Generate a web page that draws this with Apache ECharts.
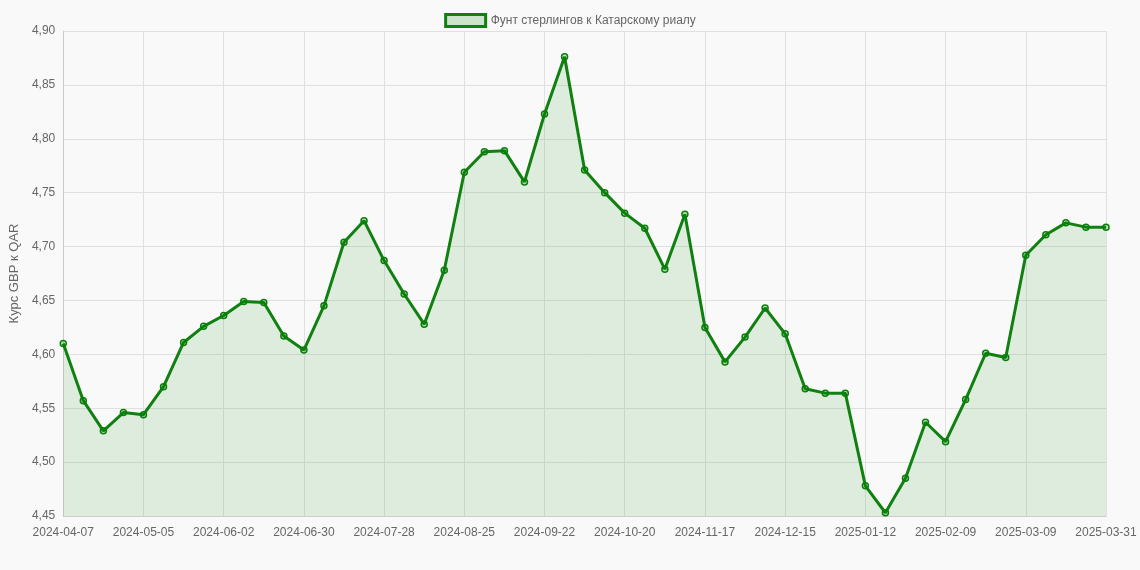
<!DOCTYPE html>
<html>
<head>
<meta charset="utf-8">
<script src="https://cdn.jsdelivr.net/npm/echarts@6/dist/echarts.min.js"></script>
<style>
html,body{margin:0;padding:0;background:#f9f9f9;}
#main{width:1140px;height:570px;}
</style>
</head>
<body>
<div id="main"></div>
<script>
var seriesName = 'Фунт стерлингов к Катарскому риалу';
var dates = [
    '2024-04-07','2024-04-14','2024-04-21','2024-04-28',
    '2024-05-05','2024-05-12','2024-05-19','2024-05-26',
    '2024-06-02','2024-06-09','2024-06-16','2024-06-23','2024-06-30',
    '2024-07-07','2024-07-14','2024-07-21','2024-07-28',
    '2024-08-04','2024-08-11','2024-08-18','2024-08-25',
    '2024-09-01','2024-09-08','2024-09-15','2024-09-22','2024-09-29',
    '2024-10-06','2024-10-13','2024-10-20','2024-10-27',
    '2024-11-03','2024-11-10','2024-11-17','2024-11-24',
    '2024-12-01','2024-12-08','2024-12-15','2024-12-22','2024-12-29',
    '2025-01-05','2025-01-12','2025-01-19','2025-01-26',
    '2025-02-02','2025-02-09','2025-02-16','2025-02-23',
    '2025-03-02','2025-03-09','2025-03-16','2025-03-23','2025-03-30','2025-03-31'
];
var rates = [
    4.610,4.557,4.529,4.546,4.544,4.570,4.611,4.626,4.636,4.649,
    4.648,4.617,4.604,4.645,4.704,4.724,4.687,4.656,4.628,4.678,
    4.769,4.788,4.789,4.760,4.823,4.876,4.771,4.750,4.731,4.717,
    4.679,4.730,4.625,4.593,4.616,4.643,4.619,4.568,4.564,4.564,
    4.478,4.453,4.485,4.537,4.519,4.558,4.601,4.597,4.692,4.711,
    4.722,4.718,4.718
];

var myChart = echarts.init(document.getElementById('main'));
var option = {
    backgroundColor: '#f9f9f9',
    textStyle: { fontFamily: 'Liberation Sans, Arial, sans-serif' },
    legend: {
        top: 8,
        icon: 'rect',
        itemWidth: 40,
        itemHeight: 12,
        itemStyle: { color: 'rgba(0,128,0,0.18)', borderColor: '#108010', borderWidth: 3 },
        textStyle: { color: '#666', fontSize: 12 },
        data: [seriesName]
    },
    grid: { left: 62, right: 34, top: 31, bottom: 54 },
    xAxis: {
        type: 'category',
        boundaryGap: false,
        data: dates,
        axisLine: { lineStyle: { color: '#ccc' } },
        axisTick: { show: false },
        axisLabel: { interval: 3, color: '#666', fontSize: 12, margin: 11 },
        splitLine: { show: true, interval: 3, lineStyle: { color: '#e0e0e0' } }
    },
    yAxis: {
        type: 'value',
        min: 4.45,
        max: 4.90,
        interval: 0.05,
        name: 'Курс GBP к QAR',
        nameLocation: 'middle',
        nameGap: 40,
        nameTextStyle: { color: '#666', fontSize: 13 },
        axisLine: { show: true, lineStyle: { color: '#ccc' } },
        axisTick: { show: false },
        axisLabel: {
            color: '#666', fontSize: 12,
            formatter: function (v) { return v.toFixed(2).replace('.', ','); }
        },
        splitLine: { lineStyle: { color: '#e0e0e0' } }
    },
    series: [{
        name: seriesName,
        type: 'line',
        data: rates,
        symbol: 'circle',
        symbolSize: 6,
        itemStyle: { color: 'rgba(0,128,0,0.2)', borderColor: '#088008', borderWidth: 1.5 },
        lineStyle: { color: '#108010', width: 3 },
        areaStyle: { color: 'rgba(0,128,0,0.15)' }
    }]
};
myChart.setOption(option);
</script>
</body>
</html>
